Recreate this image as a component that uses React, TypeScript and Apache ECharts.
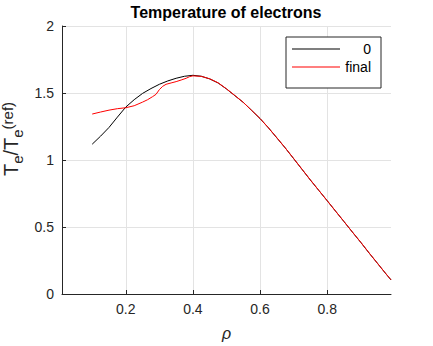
import React, { useEffect, useRef } from 'react';
import * as echarts from 'echarts';

const rho0 = [0.1, 0.125, 0.15, 0.175, 0.2, 0.225, 0.25, 0.275, 0.3, 0.325, 0.35, 0.375, 0.4, 0.425, 0.45, 0.475, 0.5, 0.525, 0.55, 0.575, 0.6, 0.625, 0.65, 0.675, 0.7, 0.725, 0.75, 0.775, 0.8, 0.825, 0.85, 0.875, 0.9, 0.925, 0.95, 0.975, 0.99];
const te0 = [1.118, 1.178, 1.243, 1.32, 1.395, 1.45, 1.497, 1.533, 1.565, 1.59, 1.61, 1.625, 1.632, 1.625, 1.605, 1.575, 1.53, 1.48, 1.43, 1.37, 1.309, 1.24, 1.165, 1.09, 1.01, 0.93, 0.85, 0.773, 0.696, 0.618, 0.54, 0.462, 0.385, 0.305, 0.228, 0.15, 0.105];

const rhoFinal = [0.1, 0.125, 0.15, 0.175, 0.2, 0.225, 0.25, 0.265, 0.28, 0.29, 0.3, 0.31, 0.32, 0.335, 0.35, 0.365, 0.38, 0.39, 0.4, 0.425, 0.45, 0.475, 0.5, 0.525, 0.55, 0.575, 0.6, 0.625, 0.65, 0.675, 0.7, 0.725, 0.75, 0.775, 0.8, 0.825, 0.85, 0.875, 0.9, 0.925, 0.95, 0.975, 0.99];
const teFinal = [1.343, 1.358, 1.372, 1.383, 1.39, 1.405, 1.432, 1.45, 1.473, 1.49, 1.525, 1.55, 1.565, 1.575, 1.585, 1.597, 1.61, 1.622, 1.628, 1.624, 1.606, 1.576, 1.531, 1.481, 1.43, 1.37, 1.31, 1.24, 1.166, 1.09, 1.011, 0.931, 0.851, 0.773, 0.696, 0.618, 0.541, 0.462, 0.386, 0.306, 0.228, 0.151, 0.106];

const seriesNames = ['0', 'final'];
const seriesColors = ['#000000', '#ff0000'];
const titleText = 'Temperature of electrons';
const xName = 'ρ';
// y label pieces: [text, kind] kind: 'main' | 'sub' | 'sup'
const yLabelParts: [string, string][] = [['T', 'main'], ['e', 'sub'], ['/', 'main'], ['T', 'main'], ['e', 'sub'], ['(ref)', 'sup']];

const FONT = 'Liberation Sans, Arial, Helvetica, sans-serif';
const AXIS = '#262626';

function measure(text: string, size: number): number {
  const c = document.createElement('canvas').getContext('2d');
  if (!c) return text.length * size * 0.55;
  c.font = `${size}px "Liberation Sans", Arial, sans-serif`;
  return c.measureText(text).width;
}

export default function App() {
  const ref = useRef<HTMLDivElement>(null);
  useEffect(() => {
    if (!ref.current) return;
    const chart = echarts.init(ref.current, null, { renderer: 'svg' });

    const mainSize = 20;
    const subSize = 15;
    let off = 0;
    const yLabelChildren: any[] = [];
    yLabelParts.forEach(([t, kind]) => {
      const size = kind === 'main' ? mainSize : subSize;
      const dy = kind === 'sub' ? 4 : kind === 'sup' ? -6 : 0;
      yLabelChildren.push({
        type: 'text',
        x: off,
        y: dy,
        style: { text: t, fontSize: size, fontFamily: FONT, fill: AXIS, textAlign: 'left', textVerticalAlign: 'bottom', verticalAlign: 'bottom' },
      });
      off += measure(t, size);
    });
    const yLabelCenter = 139;

    const option: any = {
      animation: false,
      backgroundColor: '#ffffff',
      textStyle: { fontFamily: FONT },
      title: {
        text: titleText,
        left: 226,
        top: 4,
        textAlign: 'center',
        padding: 0,
        textStyle: { fontSize: 16, fontWeight: 'bold', color: '#000', fontFamily: FONT },
      },
      grid: { left: 62, right: 42, top: 26, bottom: 48, containLabel: false },
      legend: {
        orient: 'vertical',
        left: 286,
        top: 37,
        padding: [5, 10, 14, 6],
        itemGap: 4,
        itemWidth: 48,
        itemHeight: 1,
        icon: 'rect',
        backgroundColor: '#ffffff',
        borderColor: AXIS,
        borderWidth: 1,
        borderRadius: 0,
        selectedMode: false,
        itemStyle: { borderWidth: 0 },
        textStyle: {
          fontSize: 14,
          color: '#000',
          fontFamily: FONT,
          rich: { r: { width: 26, align: 'right', fontSize: 14, lineHeight: 14, fontFamily: FONT, color: '#000' } },
        },
        formatter: (name: string) => `{r|${name}}`,
        data: seriesNames,
      },
      xAxis: {
        type: 'value',
        min: 0.01,
        max: 0.99,
        splitNumber: 5,
        name: xName,
        nameLocation: 'middle',
        nameGap: 31,
        nameTextStyle: { fontSize: 16, fontStyle: 'italic', color: AXIS, fontFamily: FONT },
        axisLine: { show: true, onZero: false, lineStyle: { color: AXIS, width: 1 } },
        axisTick: { show: true, inside: true, length: 4, lineStyle: { color: AXIS, width: 1 } },
        axisLabel: { fontSize: 14, color: AXIS, margin: 8, showMinLabel: false, showMaxLabel: false, fontFamily: FONT },
        splitLine: { show: true, showMinLine: false, showMaxLine: false, lineStyle: { color: '#e3e3e3', width: 1 } },
      },
      yAxis: {
        type: 'value',
        min: 0,
        max: 2,
        interval: 0.5,
        axisLine: { show: true, onZero: false, lineStyle: { color: AXIS, width: 1 } },
        axisTick: { show: true, inside: true, length: 4, lineStyle: { color: AXIS, width: 1 } },
        axisLabel: { fontSize: 14, color: AXIS, margin: 8, fontFamily: FONT },
        splitLine: { show: true, showMinLine: false, lineStyle: { color: '#e3e3e3', width: 1 } },
      },
      graphic: [
        {
          type: 'group',
          x: 21,
          y: yLabelCenter + off / 2,
          rotation: Math.PI / 2,
          children: yLabelChildren,
        },
      ],
      series: [
        {
          name: seriesNames[0],
          type: 'line',
          data: rho0.map((x, i) => [x, te0[i]]),
          symbol: 'none',
          silent: true,
          lineStyle: { color: seriesColors[0], width: 1 },
          itemStyle: { color: seriesColors[0] },
        },
        {
          name: seriesNames[1],
          type: 'line',
          data: rhoFinal.map((x, i) => [x, teFinal[i]]),
          symbol: 'none',
          silent: true,
          lineStyle: { color: seriesColors[1], width: 1 },
          itemStyle: { color: seriesColors[1] },
        },
      ],
    };
    chart.setOption(option);
    return () => chart.dispose();
  }, []);
  return <div ref={ref} style={{ position: 'fixed', left: 0, top: 0, width: 433, height: 346, background: '#fff' }} />;
}
